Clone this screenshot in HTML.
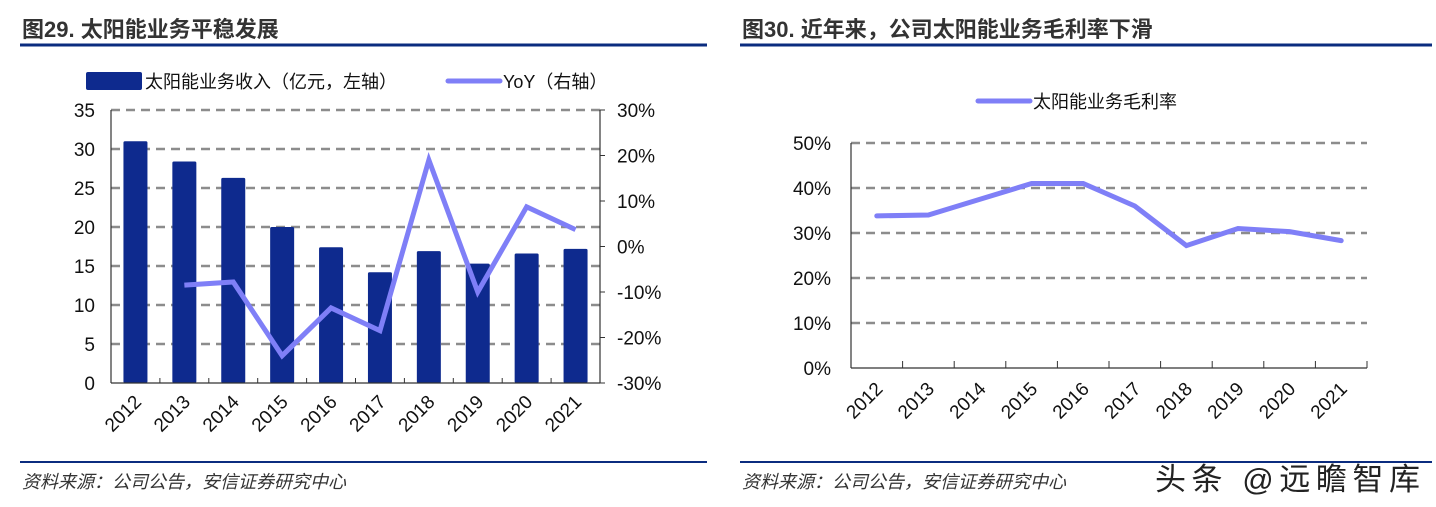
<!DOCTYPE html>
<html><head><meta charset="utf-8"><style>
html,body{margin:0;padding:0;background:#fff;}
svg{display:block;font-family:"Liberation Sans","Noto Sans CJK SC",sans-serif;}
</style></head><body>
<svg id="s" width="1436" height="507" viewBox="0 0 1436 507" xmlns="http://www.w3.org/2000/svg">
<text x="22" y="37" font-size="22" font-weight="bold" fill="#333">图29. 太阳能业务平稳发展</text>
<line x1="20" y1="45" x2="707" y2="45" stroke="#0b2c7f" stroke-width="3"/>
<text x="742" y="37" font-size="22" font-weight="bold" fill="#333">图30. 近年来，公司太阳能业务毛利率下滑</text>
<line x1="740" y1="45" x2="1432" y2="45" stroke="#0b2c7f" stroke-width="3"/>
<line x1="20" y1="462" x2="707" y2="462" stroke="#0b2c7f" stroke-width="2"/>
<line x1="740" y1="462" x2="1432" y2="462" stroke="#0b2c7f" stroke-width="2"/>
<text x="22" y="488" font-size="18" font-style="italic" fill="#333">资料来源：公司公告，安信证券研究中心</text>
<text x="742" y="488" font-size="18" font-style="italic" fill="#333">资料来源：公司公告，安信证券研究中心</text>
<text x="1155" y="490" font-size="31" fill="#222" textLength="265">头条 @远瞻智库</text>
<rect x="86" y="72" width="56" height="18" rx="2" fill="#0e2a8e"/>
<text x="145" y="88" font-size="18" fill="#111">太阳能业务收入（亿元，左轴）</text>
<line x1="448" y1="81" x2="500" y2="81" stroke="#7f7ff7" stroke-width="5" stroke-linecap="round"/>
<text x="503" y="88" font-size="18" fill="#111">YoY（右轴）</text>
<line x1="978" y1="101" x2="1030" y2="101" stroke="#7f7ff7" stroke-width="5" stroke-linecap="round"/>
<text x="1033" y="108" font-size="18" fill="#111">太阳能业务毛利率</text>
<g id="g"></g>
</svg>
<script>
const years = ["2012","2013","2014","2015","2016","2017","2018","2019","2020","2021"];
const revenue = [31.0, 28.4, 26.3, 20.0, 17.4, 14.2, 16.9, 15.3, 16.6, 17.2];
const yoy = [null, -8.5, -7.8, -24.0, -13.5, -18.5, 19.0, -10.0, 8.7, 3.7];
const leftTicks = [0,5,10,15,20,25,30,35];
const rightTicks = [-30,-20,-10,0,10,20,30];
const margin = [33.8, 34.0, 37.5, 41.0, 41.0, 36.0, 27.2, 31.0, 30.3, 28.3];
const marginTicks = [0,10,20,30,40,50];

const NS="http://www.w3.org/2000/svg", g=document.getElementById('g');
function mk(t,a,txt){const e=document.createElementNS(NS,t);for(const k in a)e.setAttribute(k,a[k]);if(txt!=null)e.textContent=txt;g.appendChild(e);return e;}

const L={x0:111,x1:600,yTop:110,yBot:383};
const lx=i=>L.x0+(L.x1-L.x0)/years.length*(i+0.5);
const ly=v=>L.yBot-(v/35)*(L.yBot-L.yTop);
const ry=v=>L.yBot-((v+30)/60)*(L.yBot-L.yTop);
leftTicks.forEach(v=>{
  if(v>0){const e=mk('line',{x1:L.x0,x2:L.x1,y1:ly(v),y2:ly(v),stroke:'#8c8c8c','stroke-width':2.5,'stroke-dasharray':'9,6'});
  }
  const t=mk('text',{x:L.x0-16,y:ly(v)+7,'font-size':19,'text-anchor':'end',fill:'#111'},String(v));
  
});
revenue.forEach((v,i)=>{
  const b=mk('rect',{x:lx(i)-12,y:ly(v),width:24,height:ly(0)-ly(v),fill:'#0e2a8e',rx:1.5});
  
});
rightTicks.forEach(v=>{
  const tk=mk('line',{x1:L.x1,x2:L.x1+5,y1:ry(v),y2:ry(v),stroke:'#333'});
  
  const t=mk('text',{x:L.x1+17,y:ry(v)+7,'font-size':19,fill:'#111'},v+'%');
  
});
let a1=mk('line',{x1:L.x0,x2:L.x0,y1:L.yTop,y2:L.yBot,stroke:'#333','stroke-width':1.2});
let a2=mk('line',{x1:L.x1,x2:L.x1,y1:L.yTop,y2:L.yBot,stroke:'#333','stroke-width':1.2});
let a3=mk('line',{x1:L.x0,x2:L.x1,y1:L.yBot,y2:L.yBot,stroke:'#333','stroke-width':1.2});
const pts=yoy.map((v,i)=>v==null?null:lx(i)+','+ry(v)).filter(p=>p);
const yl=mk('polyline',{points:pts.join(' '),fill:'none',stroke:'#7f7ff7','stroke-width':5,'stroke-linejoin':'miter'});

years.forEach((y,i)=>{
  const xx=L.x0+(L.x1-L.x0)/years.length*(i+1);
  const tk=mk('line',{x1:xx,x2:xx,y1:L.yBot,y2:L.yBot-5,stroke:'#333'});
  
  const cx=lx(i)+7,cy=L.yBot+20;
  const t=mk('text',{x:cx,y:cy,'font-size':19,'text-anchor':'end',fill:'#111',transform:`rotate(-45 ${cx} ${cy})`},y);
  
});

const R={x0:851,x1:1367,yTop:143,yBot:368};
const mx=i=>R.x0+(R.x1-R.x0)/years.length*(i+0.5);
const my=v=>R.yBot-(v/50)*(R.yBot-R.yTop);
marginTicks.forEach(v=>{
  if(v>0){const e=mk('line',{x1:R.x0,x2:R.x1,y1:my(v),y2:my(v),stroke:'#8c8c8c','stroke-width':2.5,'stroke-dasharray':'9,6'});
  }
  const t=mk('text',{x:R.x0-20,y:my(v)+7,'font-size':19,'text-anchor':'end',fill:'#111'},v+'%');
  
});
let b1=mk('line',{x1:R.x0,x2:R.x0,y1:R.yTop,y2:R.yBot,stroke:'#333','stroke-width':1.2});
let b2=mk('line',{x1:R.x0,x2:R.x1,y1:R.yBot,y2:R.yBot,stroke:'#333','stroke-width':1.2});
years.forEach((y,i)=>{
  const xx=R.x0+(R.x1-R.x0)/years.length*(i+1);
  const tk=mk('line',{x1:xx,x2:xx,y1:R.yBot,y2:R.yBot-7,stroke:'#333'});
  
  const cx=mx(i)+7,cy=R.yBot+22;
  const t=mk('text',{x:cx,y:cy,'font-size':19,'text-anchor':'end',fill:'#111',transform:`rotate(-45 ${cx} ${cy})`},y);
  
});
const ml=mk('polyline',{points:margin.map((v,i)=>mx(i)+','+my(v)).join(' '),fill:'none',stroke:'#7f7ff7','stroke-width':5,'stroke-linecap':'round'});

</script>
</body></html>
